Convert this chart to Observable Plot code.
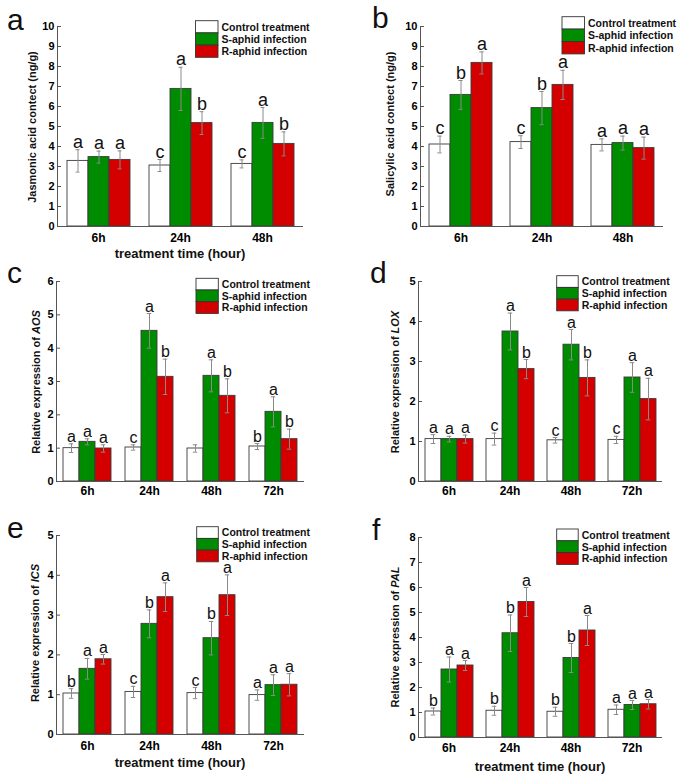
<!DOCTYPE html>
<html><head><meta charset="utf-8">
<script src="https://cdn.jsdelivr.net/npm/d3@7"></script>
<script src="https://cdn.jsdelivr.net/npm/@observablehq/plot@0.6"></script>
<style>
body{margin:0;background:#fff;}
#fig{position:relative;width:680px;height:774px;overflow:hidden;font-family:"Liberation Sans",Arial,sans-serif;}
</style></head><body><div id="fig"></div>
<script>
// ---------- categories ----------
const treatments = ["Control treatment", "S-aphid infection", "R-aphid infection"];
const colors = ["#ffffff", "#008c00", "#d40000"];
const times3 = ["6h", "24h", "48h"];
const times4 = ["6h", "24h", "48h", "72h"];

// ---------- (a) Jasmonic acid: rows = Control, S-aphid, R-aphid ----------
const jaMean = [[3.28, 3.05, 3.13], [3.47, 6.88, 5.18], [3.33, 5.17, 4.13]];
const jaErr = [[0.56, 0.30, 0.20], [0.30, 1.08, 0.77], [0.45, 0.57, 0.60]];
const jaLetters = [["a", "c", "c"], ["a", "a", "a"], ["a", "b", "b"]];

// ---------- (b) Salicylic acid ----------
const saMean = [[4.10, 4.22, 4.08], [6.58, 5.92, 4.17], [8.18, 7.08, 3.92]];
const saErr = [[0.42, 0.32, 0.30], [0.72, 0.83, 0.35], [0.55, 0.73, 0.55]];
const saLetters = [["c", "c", "a"], ["b", "b", "a"], ["a", "a", "a"]];

// ---------- (c) AOS ----------
const aosMean = [[1.00, 1.02, 0.99, 1.05], [1.19, 4.52, 3.17, 2.09], [0.99, 3.14, 2.57, 1.27]];
const aosErr = [[0.13, 0.08, 0.11, 0.09], [0.09, 0.52, 0.48, 0.45], [0.11, 0.53, 0.51, 0.30]];
const aosLetters = [["a", "c", "", "b"], ["a", "a", "a", "a"], ["a", "b", "b", "b"]];

// ---------- (d) LOX ----------
const loxMean = [[1.06, 1.06, 1.03, 1.04], [1.06, 3.75, 3.42, 2.60], [1.06, 2.81, 2.59, 2.06]];
const loxErr = [[0.11, 0.15, 0.07, 0.09], [0.07, 0.46, 0.38, 0.37], [0.10, 0.24, 0.45, 0.52]];
const loxLetters = [["a", "c", "c", "c"], ["a", "a", "a", "a"], ["a", "b", "b", "a"]];

// ---------- (e) ICS ----------
const icsMean = [[1.03, 1.07, 1.04, 0.99], [1.65, 2.78, 2.42, 1.24], [1.89, 3.45, 3.50, 1.25]];
const icsErr = [[0.12, 0.14, 0.14, 0.13], [0.26, 0.35, 0.42, 0.26], [0.12, 0.36, 0.51, 0.28]];
const icsLetters = [["b", "c", "c", "a"], ["a", "b", "b", "a"], ["a", "a", "a", "a"]];

// ---------- (f) PAL ----------
const palMean = [[1.04, 1.07, 1.03, 1.11], [2.72, 4.17, 3.18, 1.30], [2.88, 5.42, 4.28, 1.33]];
const palErr = [[0.14, 0.18, 0.18, 0.19], [0.50, 0.73, 0.58, 0.18], [0.20, 0.58, 0.60, 0.19]];
const palLetters = [["b", "b", "b", "a"], ["a", "b", "b", "a"], ["a", "a", "a", "a"]];

const xTitle = "treatment time (hour)";
const FONT = '"Liberation Sans", Arial, sans-serif';
const PAD = 0.37;

const panels = [
  {tag: "a", times: times3, mean: jaMean, err: jaErr, letters: jaLetters, yMax: 10,
   ylabel: ["Jasmonic acid contect (ng/g)", ""], left: 0, top: 0, width: 340, height: 260,
   mt: 26, mb: 34, ml: 56, mr: 36, tickPad: 7, letterSize: 18,
   tagPos: [7, 30], yl: [32, 127], xt: [180, 258], leg: [195.5, 20.7, 22.5, 12.2]},
  {tag: "b", times: times3, mean: saMean, err: saErr, letters: saLetters, yMax: 10,
   ylabel: ["Salicylic acid contect (ng/g)", ""], left: 340, top: 0, width: 340, height: 260,
   mt: 26, mb: 34, ml: 79, mr: 17, tickPad: 7, letterSize: 18,
   tagPos: [372, 28], yl: [390, 124], xt: null, leg: [562, 16.7, 22.5, 12.4]},
  {tag: "c", times: times4, mean: aosMean, err: aosErr, letters: aosLetters, yMax: 6,
   ylabel: ["Relative expression of ", "AOS"], left: 0, top: 260, width: 340, height: 250,
   mt: 21, mb: 29, ml: 56, mr: 36, tickPad: 5, letterSize: 16,
   tagPos: [7, 283], yl: [36, 382], xt: null, leg: [196, 278.3, 22.3, 11.7]},
  {tag: "d", times: times4, mean: loxMean, err: loxErr, letters: loxLetters, yMax: 5,
   ylabel: ["Relative expression of ", "LOX"], left: 340, top: 260, width: 340, height: 250,
   mt: 21, mb: 29, ml: 77, mr: 17, tickPad: 5, letterSize: 16,
   tagPos: [370, 283], yl: [395, 382], xt: null, leg: [556.7, 275.7, 21.5, 11.7]},
  {tag: "e", times: times4, mean: icsMean, err: icsErr, letters: icsLetters, yMax: 5,
   ylabel: ["Relative expression of ", "ICS"], left: 0, top: 505, width: 340, height: 269,
   mt: 30, mb: 40, ml: 56, mr: 36, tickPad: 7, letterSize: 16,
   tagPos: [7, 538], yl: [35, 633], xt: [180, 767], leg: [196.7, 526.7, 21.6, 11.7]},
  {tag: "f", times: times4, mean: palMean, err: palErr, letters: palLetters, yMax: 8,
   ylabel: ["Relative expression of ", "PAL"], left: 340, top: 505, width: 340, height: 269,
   mt: 32, mb: 37, ml: 77, mr: 17, tickPad: 6, letterSize: 16,
   tagPos: [372, 540], yl: [395, 637], xt: [540, 771], leg: [556.7, 529, 21.5, 11.8]}
];

const fig = document.getElementById("fig");

function makePanel(p) {
  const rows = [];
  treatments.forEach((t, i) => p.times.forEach((h, j) =>
    rows.push({time: h, trt: t, v: p.mean[i][j], e: p.err[i][j], l: p.letters[i][j]})));
  const step = (p.width - p.ml - p.mr) / p.times.length / (3 + 2 * PAD);
  const capInset = Math.max(0, (step - 5) / 2);
  const errStyle = {fx: "time", x: "trt", stroke: "#8a8a8a", strokeWidth: 1};
  const svg = Plot.plot({
    width: p.width, height: p.height,
    marginTop: p.mt, marginBottom: p.mb, marginLeft: p.ml, marginRight: p.mr,
    style: {background: "transparent", overflow: "visible", fontFamily: FONT, color: "#000"},
    fx: {domain: p.times, padding: 0, label: null, axis: null},
    x: {domain: treatments, paddingInner: 0, paddingOuter: PAD, axis: null, label: null},
    y: {domain: [0, p.yMax], axis: null, label: null},
    color: {domain: treatments, range: colors},
    marks: [
      Plot.barY(rows, {fx: "time", x: "trt", y: "v", fill: "trt", stroke: "#3a3a3a", strokeWidth: 0.9}),
      Plot.ruleX(rows, {...errStyle, y1: d => d.v - d.e, y2: d => d.v + d.e}),
      Plot.tickY(rows, {...errStyle, y: d => d.v + d.e, insetLeft: capInset, insetRight: capInset}),
      Plot.tickY(rows, {...errStyle, y: d => d.v - d.e, insetLeft: capInset, insetRight: capInset}),
      Plot.text(rows, {fx: "time", x: "trt", y: d => d.v + d.e, text: "l", lineAnchor: "bottom",
        dy: -2, fontSize: p.letterSize, fill: "#111"}),
      Plot.ruleY([0], {stroke: "#555", strokeWidth: 1}),
      Plot.frame({anchor: "left", facetAnchor: "left", stroke: "#555"}),
      Plot.axisY({ticks: d3.range(0, p.yMax + 1), tickSize: -4, tickPadding: 7, fontWeight: "bold",
        fontSize: 11, stroke: "#555", tickFormat: d3.format("d"), label: null}),
      Plot.axisFx({anchor: "bottom", tickSize: 0, tickPadding: p.tickPad, fontWeight: "bold",
        fontSize: 12, label: null})
    ]
  });
  svg.style.position = "absolute";
  svg.style.left = p.left + "px";
  svg.style.top = p.top + "px";
  fig.appendChild(svg);
}

panels.forEach(makePanel);

// ---------- annotations: panel tags, axis titles, legends ----------
const ov = d3.select(fig).append("svg")
  .attr("width", 680).attr("height", 774)
  .style("position", "absolute").style("left", "0px").style("top", "0px")
  .style("font-family", FONT).style("pointer-events", "none");

panels.forEach(p => {
  ov.append("text").attr("x", p.tagPos[0]).attr("y", p.tagPos[1])
    .attr("font-size", 30).attr("fill", "#111").text(p.tag);

  const yl = ov.append("text")
    .attr("transform", `translate(${p.yl[0]},${p.yl[1]}) rotate(-90)`)
    .attr("text-anchor", "middle").attr("dy", "0.35em")
    .attr("font-size", 11).attr("font-weight", "bold").attr("fill", "#111");
  yl.append("tspan").text(p.ylabel[0]);
  if (p.ylabel[1]) yl.append("tspan").attr("font-style", "italic").text(p.ylabel[1]);

  if (p.xt) {
    ov.append("text").attr("x", p.xt[0]).attr("y", p.xt[1]).attr("text-anchor", "middle")
      .attr("font-size", 13).attr("font-weight", "bold").attr("fill", "#111").text(xTitle);
  }

  const [lx, ly, lw, lh] = p.leg;
  treatments.forEach((t, i) => {
    ov.append("rect").attr("x", lx).attr("y", ly + i * lh).attr("width", lw).attr("height", lh)
      .attr("fill", colors[i]).attr("stroke", "#333").attr("stroke-width", 0.9);
    ov.append("text").attr("x", lx + lw + 3.5).attr("y", ly + i * lh + lh / 2 + 3.8)
      .attr("font-size", 10.5).attr("font-weight", "bold").attr("fill", "#111").text(t);
  });
});
</script>
</body></html>
